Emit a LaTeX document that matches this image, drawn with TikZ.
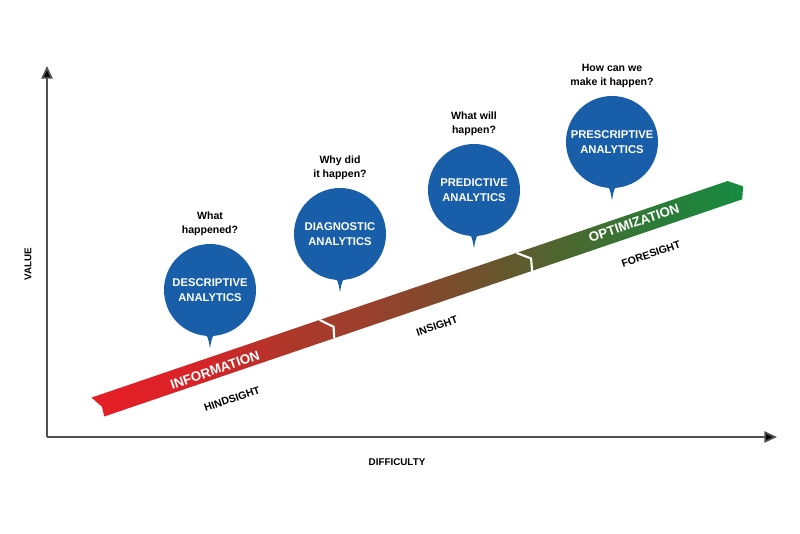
\documentclass[tikz,border=0pt]{standalone}
\usepackage{fontspec}
\setmainfont{Liberation Sans}
\usetikzlibrary{positioning,calc,arrows.meta}
\definecolor{bubbleblue}{RGB}{24,94,168}
\definecolor{axisgray}{RGB}{80,80,80}
\definecolor{ribA}{RGB}{230,30,38}
\definecolor{ribB}{RGB}{215,35,40}
\definecolor{ribC}{RGB}{175,55,42}
\definecolor{ribD}{RGB}{150,65,45}
\definecolor{ribE}{RGB}{110,82,45}
\definecolor{ribF}{RGB}{72,105,48}
\definecolor{ribG}{RGB}{45,122,55}
\definecolor{ribH}{RGB}{22,140,65}
\pgfdeclarehorizontalshading{ribbonshade}{100bp}{color(0bp)=(ribA); color(25bp)=(ribA); color(33bp)=(ribB); color(40bp)=(ribC); color(47bp)=(ribD); color(55bp)=(ribE); color(62bp)=(ribF); color(68bp)=(ribG); color(75bp)=(ribH); color(100bp)=(ribH)}

\begin{document}
\begin{tikzpicture}[x=0.025cm,y=-0.025cm,
  bubble/.style={circle,fill=bubbleblue,text=white,minimum size=2.3cm,inner sep=0pt,align=center,font=\fontsize{8}{11}\selectfont\bfseries},
  every label/.style={align=center,font=\fontsize{7.5}{10}\selectfont\bfseries},
  label distance=2pt,
  axis/.style={line width=1.3pt,draw=axisgray,-{Triangle[length=9pt,width=8pt,fill=black]}},
  axislabel/.style={font=\fontsize{7}{8}\selectfont\bfseries},
  band/.style={text=white,rotate=18.8,inner sep=0pt,font=\fontsize{9.5}{11}\selectfont\bfseries},
  sight/.style={rotate=18.8,inner sep=0pt,font=\fontsize{7.5}{9}\selectfont\bfseries},
  divider/.style={draw=white,line width=1.5pt}]
\useasboundingbox (0,0) rectangle (800,533);

\coordinate (o) at (47,437);
\coordinate (ytop) at (47,66);
\coordinate (xend) at (777,437);
\draw[axis] (o) -- (ytop);
\draw[axis] (o) -- (xend);
\node[axislabel,rotate=90] (value) at (28,264) {VALUE};
\node[axislabel] (difficulty) at (397,462) {DIFFICULTY};

\begin{scope}[shift={(95,408)},rotate=18.8]
  \coordinate (r1) at (0,-11);
  \coordinate (r2) at (7,1);
  \coordinate (r3) at (6,11);
  \coordinate (r4) at (680,11);
  \coordinate (r5) at (685,-1);
  \coordinate (r6) at (672,-11);
  \coordinate (a1) at (241,-11);
  \coordinate (a2) at (252,0);
  \coordinate (a3) at (249,11);
  \coordinate (b1) at (449,-11);
  \coordinate (b2) at (461,-1);
  \coordinate (b3) at (458,11);
\end{scope}
\shade[shading=ribbonshade] (r1) -- (r2) -- (r3) -- (r4) -- (r5) -- (r6) -- cycle;
\draw[divider] (a1) -- (a2) -- (a3);
\draw[divider] (b1) -- (b2) -- (b3);

\node[band] (information) at (215,370) {INFORMATION};
\node[band] (optimization) at (634,223) {OPTIMIZATION};
\node[sight] (hindsight) at (232,399) {HINDSIGHT};
\node[sight] (insight) at (437,326) {INSIGHT};
\node[sight] (foresight) at (651,254) {FORESIGHT};

\node[bubble,label=above:{What\\happened?}] (descriptive) at (210,290) {DESCRIPTIVE\\ANALYTICS};
\node[bubble,label=above:{Why did\\it happen?}] (diagnostic) at (340,234) {DIAGNOSTIC\\ANALYTICS};
\node[bubble,label=above:{What will\\happen?}] (predictive) at (474,190) {PREDICTIVE\\ANALYTICS};
\node[bubble,label=above:{How can we\\make it happen?}] (prescriptive) at (612,142) {PRESCRIPTIVE\\ANALYTICS};
\foreach \b in {descriptive,diagnostic,predictive,prescriptive}
  \fill[bubbleblue] ($(\b.south)+(-9,-6)$) .. controls ($(\b.south)+(-2,0)$) .. ($(\b.south)+(0,12)$)
    .. controls ($(\b.south)+(2,0)$) .. ($(\b.south)+(9,-6)$) -- cycle;
\end{tikzpicture}
\end{document}
